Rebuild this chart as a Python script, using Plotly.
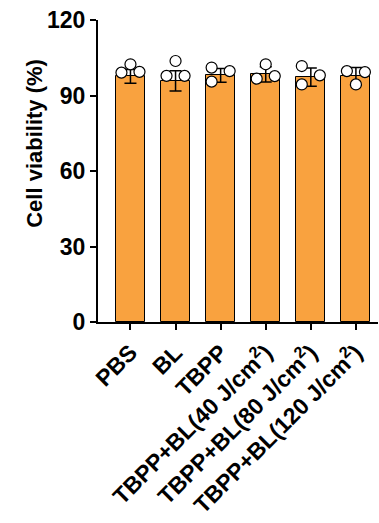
import plotly.graph_objects as go

categories = ["PBS", "BL", "TBPP",
              "TBPP+BL(40 J/cm<sup>2</sup>)",
              "TBPP+BL(80 J/cm<sup>2</sup>)",
              "TBPP+BL(120 J/cm<sup>2</sup>)"]
means = [97.6, 95.8, 98.0, 98.4, 97.3, 97.6]
sds = [2.7, 4.0, 2.7, 3.0, 3.6, 3.5]
# individual replicate values per group (left, middle, right placement)
dots = [
    [99.1, 102.4, 99.4],
    [97.8, 103.7, 97.8],
    [101.1, 95.5, 99.7],
    [96.7, 102.4, 97.7],
    [101.7, 94.4, 98.0],
    [99.7, 94.4, 99.3],
]
dot_offsets = [
    [-0.2, 0.0, 0.2],
    [-0.2, 0.0, 0.2],
    [-0.2, -0.2, 0.2],
    [-0.2, 0.0, 0.2],
    [-0.2, -0.2, 0.2],
    [-0.2, 0.0, 0.2],
]
yticks = [0, 30, 60, 90, 120]

FONT = "Liberation Sans, Arial, sans-serif"
idx = list(range(len(categories)))

fig = go.Figure()
fig.add_trace(go.Bar(
    x=idx, y=means, width=0.64,
    marker=dict(color="#F9A23F", line=dict(color="black", width=1)),
    error_y=dict(type="data", array=sds, color="black", thickness=1.5, width=6),
    showlegend=False,
))
dx, dy = [], []
for i, (vals, offs) in enumerate(zip(dots, dot_offsets)):
    for v, o in zip(vals, offs):
        dx.append(i + o)
        dy.append(v)
fig.add_trace(go.Scatter(
    x=dx, y=dy, mode="markers",
    marker=dict(size=11, color="white", line=dict(color="black", width=1.2)),
    showlegend=False, cliponaxis=False,
))

fig.update_layout(
    width=379, height=523,
    margin=dict(l=98, r=1, t=20, b=201),
    plot_bgcolor="white", paper_bgcolor="white",
    font=dict(family=FONT, color="black"),
    bargap=0,
)
fig.update_xaxes(
    range=[-0.72, 5.49], automargin=False,
    tickmode="array", tickvals=idx,
    ticktext=["<b>%s</b>" % c for c in categories],
    tickangle=-45,
    tickfont=dict(size=23, family=FONT, color="black"),
    showline=True, linecolor="black", linewidth=2,
    ticks="outside", ticklen=6, tickwidth=2, tickcolor="black",
    showgrid=False, zeroline=False,
)
fig.update_yaxes(
    range=[0, 120], automargin=False,
    tickmode="array", tickvals=yticks,
    ticktext=["<b>%d</b>" % t for t in yticks],
    tickfont=dict(size=23, family=FONT, color="black"),
    showline=True, linecolor="black", linewidth=2,
    ticks="outside", ticklen=6, tickwidth=2, tickcolor="black",
    showgrid=False, zeroline=False,
)
fig.add_annotation(
    text="<b>Cell viability (%)</b>", textangle=-90,
    xref="paper", yref="paper", x=-0.225, y=0.59,
    xanchor="center", yanchor="middle", showarrow=False,
    font=dict(size=22, family=FONT, color="black"),
)
fig.write_html("out.html", config={"displayModeBar": False},
               post_script="document.body.style.margin='0px';")
